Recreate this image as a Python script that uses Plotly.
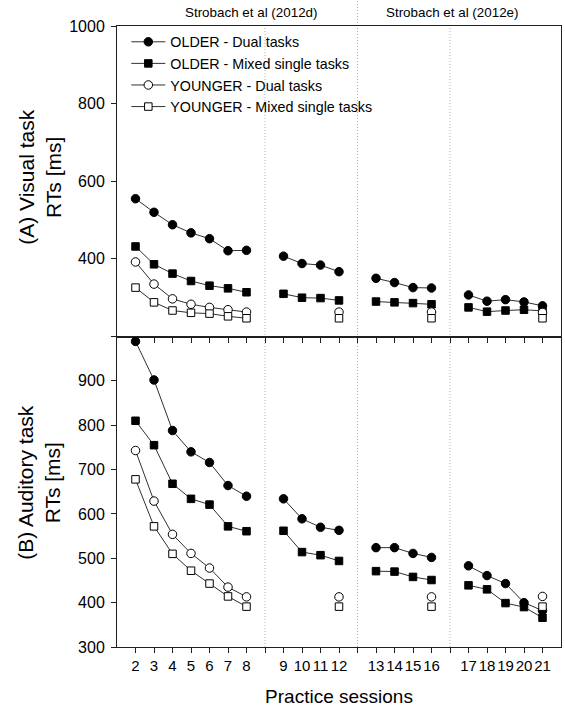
import plotly.graph_objects as go

# ---------------- data ----------------
sessions = [2, 3, 4, 5, 6, 7, 8, 9, 10, 11, 12, 13, 14, 15, 16, 17, 18, 19, 20, 21]
block_starts = [2, 9, 13, 17]  # sessions starting a new block (gap before)

# (A) Visual task RTs [ms]
older_dual_vis = [555, 520, 488, 467, 452, 421, 422, 407, 388, 384, 367, 350, 339, 326, 325, 307, 291, 295, 289, 279]
older_mixed_vis = [432, 386, 362, 343, 331, 324, 314, 310, 300, 299, 293, 290, 288, 286, 283, 275, 264, 267, 269, 266]
younger_dual_vis = [392, 335, 297, 283, 275, 269, 263, None, None, None, 263, None, None, None, 263, None, None, None, None, 262]
younger_mixed_vis = [326, 288, 267, 261, 259, 252, 247, None, None, None, 247, None, None, None, 247, None, None, None, None, 247]

# (B) Auditory task RTs [ms]
older_dual_aud = [989, 902, 788, 740, 716, 664, 640, 634, 589, 570, 563, 524, 524, 511, 502, 483, 461, 443, 400, 382]
older_mixed_aud = [810, 755, 668, 634, 621, 572, 561, 562, 514, 507, 494, 471, 470, 458, 451, 439, 430, 399, 390, 366]
younger_dual_aud = [743, 629, 554, 511, 478, 435, 413, None, None, None, 413, None, None, None, 413, None, None, None, None, 414]
younger_mixed_aud = [678, 572, 510, 472, 443, 414, 391, None, None, None, 391, None, None, None, 391, None, None, None, None, 391]

series_names = ["OLDER - Dual tasks", "OLDER - Mixed single tasks",
                "YOUNGER - Dual tasks", "YOUNGER - Mixed single tasks"]
study_labels = ["Strobach et al (2012d)", "Strobach et al (2012e)"]
study_label_centers = [7.25, 18.15]
x_title = "Practice sessions"
y_titles = ["(A) Visual task<br>RTs [ms]", "(B) Auditory task<br>RTs [ms]"]

FONT = "Arial, Liberation Sans, sans-serif"


def block_of(s):
    b = 0
    for i, st in enumerate(block_starts):
        if s >= st:
            b = i
    return b


def pos(s):
    # numeric position with one empty slot between blocks
    return s - 1 + block_of(s)


def build_xy(vals):
    xs, ys = [], []
    prev_block = None
    for s, v in zip(sessions, vals):
        b = block_of(s)
        if prev_block is not None and b != prev_block:
            xs.append(None)
            ys.append(None)
        xs.append(pos(s))
        ys.append(v)
        prev_block = b
    return xs, ys


styles = [
    dict(symbol="circle", size=8.5, color="black"),
    dict(symbol="square", size=7.5, color="black"),
    dict(symbol="circle", size=8.5, color="white"),
    dict(symbol="square", size=7.5, color="white"),
]

fig = go.Figure()

panels = [
    ([older_dual_vis, older_mixed_vis, younger_dual_vis, younger_mixed_vis], "x", "y", True),
    ([older_dual_aud, older_mixed_aud, younger_dual_aud, younger_mixed_aud], "x2", "y2", False),
]

for data, xa, ya, show in panels:
    for name, vals, st in zip(series_names, data, styles):
        xs, ys = build_xy(vals)
        fig.add_trace(go.Scatter(
            x=xs, y=ys, mode="lines+markers", name=name,
            xaxis=xa, yaxis=ya, showlegend=show, connectgaps=False,
            line=dict(color="#303030", width=1),
            marker=dict(symbol=st["symbol"], size=st["size"], color=st["color"],
                        line=dict(color="black", width=1)),
        ))

tick_pos = [pos(s) for s in sessions]
all_ticks = list(range(1, 24))
tick_text = []
for t in all_ticks:
    tick_text.append(str(sessions[tick_pos.index(t)]) if t in tick_pos else "")

axis_common = dict(showline=True, linecolor="#202020", linewidth=1, mirror=True,
                   showgrid=False, zeroline=False, ticks="outside", ticklen=5,
                   tickcolor="#202020", tickwidth=1)

fig.update_layout(
    width=565, height=714,
    margin=dict(l=117, r=4, t=26, b=67),
    paper_bgcolor="white", plot_bgcolor="white",
    font=dict(family=FONT, color="black"),
    xaxis=dict(domain=[0, 1], anchor="y", range=[0, 24], tickvals=all_ticks,
               ticktext=[""] * len(all_ticks), **axis_common),
    yaxis=dict(domain=[0.5, 1], anchor="x", range=[200, 1000],
               tickvals=[200, 400, 600, 800, 1000],
               ticktext=["", "400", "600", "800", "1000"],
               tickfont=dict(size=16), ticklabelstandoff=3, **axis_common),
    xaxis2=dict(domain=[0, 1], anchor="y2", range=[0, 24], tickvals=all_ticks,
                ticktext=tick_text, tickfont=dict(size=15), tickangle=0,
                title=dict(text=x_title, font=dict(size=19), standoff=16),
                **axis_common),
    yaxis2=dict(domain=[0, 0.5], anchor="x2", range=[300, 1000],
                tickvals=[300, 400, 500, 600, 700, 800, 900, 1000],
                ticktext=["300", "400", "500", "600", "700", "800", "900", ""],
                tickfont=dict(size=16), ticklabelstandoff=3, **axis_common),
    legend=dict(x=0.021, y=1.0, xanchor="left", yanchor="top",
                bgcolor="rgba(0,0,0,0)", font=dict(size=14.3),
                tracegroupgap=0, itemwidth=34),
)

# dotted separators between studies/blocks
gap_positions = [pos(st) - 1 for st in block_starts[1:]]
for i, gx in enumerate(gap_positions):
    top = 1.042 if i == 1 else 1.0
    fig.add_shape(type="line", xref="x", yref="paper", x0=gx, x1=gx, y0=0, y1=top,
                  line=dict(color="#b0b0b0", width=1, dash="1px,2px"), layer="below")

# study headers
for lbl, cx in zip(study_labels, study_label_centers):
    fig.add_annotation(text=lbl, xref="x", yref="paper", x=cx, y=1.022,
                       showarrow=False, font=dict(size=13.4),
                       xanchor="center", yanchor="middle")

# y axis titles (two lines, rotated)
for txt, yc in zip(y_titles, [0.756, 0.265]):
    fig.add_annotation(text=txt, xref="paper", yref="paper", x=-0.175, y=yc,
                       textangle=-90, showarrow=False, font=dict(size=21),
                       xanchor="center", yanchor="middle")

fig.write_html("out.html")
